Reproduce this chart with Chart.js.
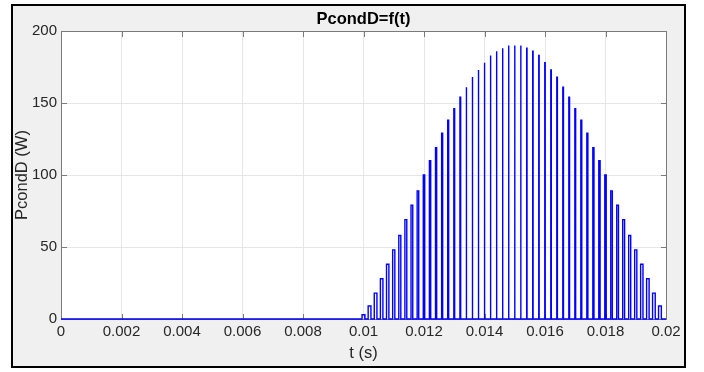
<!DOCTYPE html>
<html>
<head>
<meta charset="utf-8">
<script src="https://cdn.jsdelivr.net/npm/chart.js@4.4.1/dist/chart.umd.min.js"></script>
<style>
  html, body { margin: 0; padding: 0; background: #ffffff; }
  body { width: 704px; height: 372px; position: relative; overflow: hidden; }
  #frame {
    position: absolute; left: 11px; top: 4px; width: 675px; height: 364px;
    box-sizing: border-box; border: 2px solid #000000; background: #f0f0f0;
  }
  #plot { position: absolute; left: 0; top: 0; }
</style>
</head>
<body>
<div id="frame"></div>
<canvas id="plot" width="704" height="372"></canvas>
<script>
// Diode conduction pulses: centre time of each switching period (s)
const pulseTimes = [
  0.0100, 0.0102, 0.0104, 0.0106, 0.0108, 0.0110, 0.0112, 0.0114, 0.0116, 0.0118,
  0.0120, 0.0122, 0.0124, 0.0126, 0.0128, 0.0130, 0.0132, 0.0134, 0.0136, 0.0138,
  0.0140, 0.0142, 0.0144, 0.0146, 0.0148, 0.0150, 0.0152, 0.0154, 0.0156, 0.0158,
  0.0160, 0.0162, 0.0164, 0.0166, 0.0168, 0.0170, 0.0172, 0.0174, 0.0176, 0.0178,
  0.0180, 0.0182, 0.0184, 0.0186, 0.0188, 0.0190, 0.0192, 0.0194, 0.0196, 0.0198
];
// Conduction power during each pulse (W)
const pulsePower = [
    3,   9,  18,  28,  38,  48,  58,  69,  79,  89,
  100, 110, 119, 129, 138, 146, 154, 161, 168, 173,
  178, 183, 186, 188, 190, 190, 190, 188, 186, 183,
  178, 173, 168, 161, 154, 146, 138, 129, 119, 110,
  100,  89,  79,  69,  58,  48,  38,  28,  18,   9
];
// Conduction time of each pulse (microseconds)
const pulseOnUs = [
  95, 92, 88, 83, 78, 72, 67, 62, 57, 52,
  47, 43, 38, 34, 31, 27, 24, 21, 19, 16,
  14, 13, 12, 11, 10, 10, 10, 11, 12, 13,
  14, 16, 19, 21, 24, 27, 31, 34, 38, 43,
  47, 52, 57, 62, 67, 72, 78, 83, 88, 92
];
const tStart = 0;
const tEnd = 0.02;

const xTicks = [0, 0.002, 0.004, 0.006, 0.008, 0.01, 0.012, 0.014, 0.016, 0.018, 0.02];
const xTickLabels = ['0', '0.002', '0.004', '0.006', '0.008', '0.01', '0.012', '0.014', '0.016', '0.018', '0.02'];
const yTicks = [0, 50, 100, 150, 200];
const yTickLabels = ['0', '50', '100', '150', '200'];

const FONT = "'Liberation Sans', Arial, Helvetica, sans-serif";
const TEXT = '#262626';

// Rectangular pulse train on a zero baseline
const points = [{ x: tStart, y: 0 }];
pulseTimes.forEach((t, i) => {
  const half = pulseOnUs[i] * 1e-6 / 2;
  const v = pulsePower[i];
  points.push({ x: t - half, y: 0 }, { x: t - half, y: v }, { x: t + half, y: v }, { x: t + half, y: 0 });
});
points.push({ x: tEnd, y: 0 });

// Boxed axes with inward ticks and a bold title above the plot
const boxedAxes = {
  id: 'boxedAxes',
  beforeDraw(chart) {
    const { ctx, chartArea: a } = chart;
    ctx.save();
    ctx.fillStyle = '#ffffff';
    ctx.fillRect(a.left, a.top, a.right - a.left, a.bottom - a.top);
    ctx.restore();
  },
  beforeDatasetsDraw(chart) {
    const { ctx, chartArea: a, scales } = chart;
    ctx.save();
    ctx.strokeStyle = '#7a7a7a';
    ctx.lineWidth = 1;
    ctx.beginPath();
    ctx.rect(a.left + 0.5, a.top + 0.5, a.right - a.left, a.bottom - a.top);
    const len = 6;
    xTicks.forEach(v => {
      const px = Math.round(scales.x.getPixelForValue(v)) + 0.5;
      ctx.moveTo(px, a.top); ctx.lineTo(px, a.top + len);
      ctx.moveTo(px, a.bottom + 1); ctx.lineTo(px, a.bottom + 1 - len);
    });
    yTicks.forEach(v => {
      const py = Math.round(scales.y.getPixelForValue(v)) + 0.5;
      ctx.moveTo(a.left, py); ctx.lineTo(a.left + len, py);
      ctx.moveTo(a.right + 1, py); ctx.lineTo(a.right + 1 - len, py);
    });
    ctx.stroke();
    ctx.restore();
  },
  afterDraw(chart) {
    const { ctx, chartArea: a } = chart;
    ctx.save();
    ctx.fillStyle = '#000000';
    ctx.font = 'bold 16.5px ' + FONT;
    ctx.textAlign = 'center';
    ctx.textBaseline = 'middle';
    ctx.fillText('PcondD=f(t)', (a.left + a.right) / 2, 19);
    ctx.restore();
  }
};

new Chart(document.getElementById('plot'), {
  type: 'line',
  data: {
    datasets: [{
      data: points,
      borderColor: '#0000ff',
      borderWidth: 1.4,
      fill: false,
      pointRadius: 0,
      tension: 0,
      clip: false
    }]
  },
  options: {
    responsive: false,
    animation: false,
    devicePixelRatio: 1,
    layout: { padding: { left: 11, right: 38, top: 31, bottom: 8 } },
    plugins: { legend: { display: false }, tooltip: { enabled: false }, title: { display: false } },
    scales: {
      x: {
        type: 'linear',
        min: tStart,
        max: tEnd,
        afterBuildTicks: s => { s.ticks = xTicks.map(v => ({ value: v })); },
        afterFit: s => { s.height = 45; },
        ticks: {
          autoSkip: false, maxRotation: 0, padding: 4, color: TEXT,
          font: { family: FONT, size: 15 },
          callback: (v, i) => xTickLabels[i]
        },
        grid: { color: '#e6e6e6', drawTicks: false },
        border: { display: false },
        title: { display: true, text: 't (s)', color: TEXT, font: { family: FONT, size: 16.5 }, padding: { top: 0, bottom: 1 } }
      },
      y: {
        type: 'linear',
        min: 0,
        max: 200,
        afterBuildTicks: s => { s.ticks = yTicks.map(v => ({ value: v })); },
        afterFit: s => { s.width = 50; },
        ticks: {
          padding: 4, color: TEXT,
          font: { family: FONT, size: 15 },
          callback: (v, i) => yTickLabels[i]
        },
        grid: { color: '#e6e6e6', drawTicks: false },
        border: { display: false },
        title: { display: true, text: 'PcondD (W)', color: TEXT, font: { family: FONT, size: 16.5 }, padding: { top: 2, bottom: 0 } }
      }
    }
  },
  plugins: [boxedAxes]
});
</script>
</body>
</html>
